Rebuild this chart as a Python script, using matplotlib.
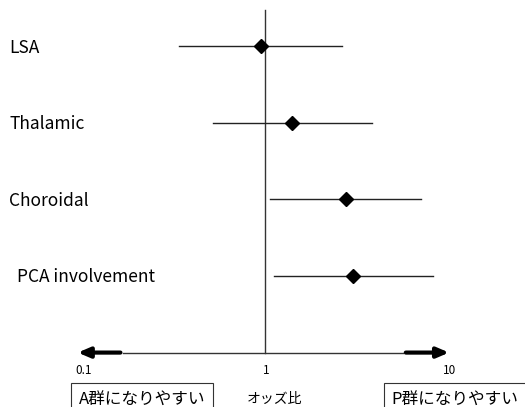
import matplotlib
matplotlib.use("Agg")
import matplotlib.pyplot as plt
import numpy as np

plt.rcParams['font.family'] = ['Noto Sans CJK JP', 'DejaVu Sans']

# odds ratios with confidence intervals
factors = ['LSA', 'Thalamic', 'Choroidal', 'PCA involvement']
odds = [0.95, 1.41, 2.77, 3.04]
ci_low = [0.34, 0.52, 1.07, 1.12]
ci_high = [2.63, 3.84, 7.09, 8.28]
ticks = [0.1, 1, 10]
tick_labels = ['0.1', '1', '10']

fig = plt.figure(figsize=(5.25, 4.07), dpi=100)
ax = fig.add_axes([0, 0, 1, 1])
ax.set_xscale('log')
ax.set_xlim(10 ** -1.448, 10 ** 1.421)
ax.set_ylim(4.71, -0.6)
ax.axis('off')

rows = np.arange(len(factors))
axis_row = len(factors)

# reference line at OR = 1
ax.plot([1, 1], [-0.47, axis_row], color='#333333', lw=1)

for i, name in enumerate(factors):
    ax.plot([ci_low[i], ci_high[i]], [rows[i], rows[i]], color='#222222', lw=1)
    ax.plot(odds[i], rows[i], marker='D', color='black', ms=7)
    xoff = 17 if name == 'PCA involvement' else 9
    ax.annotate(name, xy=(0, rows[i] + 0.02), xycoords=('figure pixels', 'data'),
                xytext=(xoff, 0), textcoords='offset pixels',
                ha='left', va='center', fontsize=12.5)

# x axis with arrows
ax.plot([0.168, 5.68], [axis_row, axis_row], color='#333333', lw=1)
ax.annotate('', xy=(0.0916, axis_row), xytext=(0.168, axis_row),
            arrowprops=dict(arrowstyle='-|>,head_length=0.7,head_width=0.3',
                            color='black', lw=3))
ax.annotate('', xy=(10.5, axis_row), xytext=(5.68, axis_row),
            arrowprops=dict(arrowstyle='-|>,head_length=0.7,head_width=0.3',
                            color='black', lw=3))

for t, lab in zip(ticks, tick_labels):
    ax.text(t * 1.02, axis_row + 0.23, lab, ha='center', va='center', fontsize=8.5)

box = dict(boxstyle='square,pad=0.45', fc='white', ec='#333333', lw=0.8)
ax.text(10 ** -0.672, axis_row + 0.61, 'A群になりやすい', ha='center', va='center',
        fontsize=12, bbox=box)
ax.text(10 ** 0.055, axis_row + 0.61, 'オッズ比', ha='center', va='center', fontsize=10)
ax.text(10 ** 1.038, axis_row + 0.61, 'P群になりやすい', ha='center', va='center',
        fontsize=12, bbox=box)

fig.savefig('out.png', dpi=100)
